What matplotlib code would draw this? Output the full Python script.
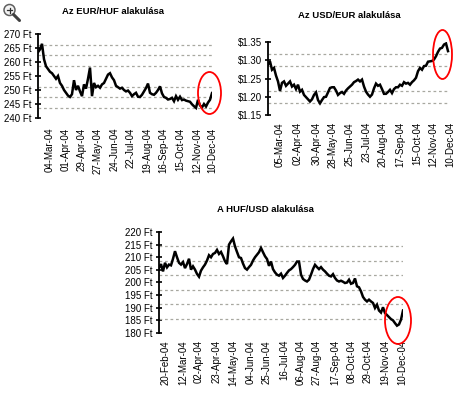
import numpy as np
import matplotlib
matplotlib.use("Agg")
import matplotlib.pyplot as plt
from matplotlib.patches import Ellipse
from matplotlib.lines import Line2D

plt.rcParams['font.family'] = ['Liberation Sans', 'DejaVu Sans']

# ---------------- data ----------------
eurhuf_title = "Az EUR/HUF alakulása"
eurhuf_values = [263.5, 264.5, 266.5, 261.0, 258.5, 257.5, 256.5, 256.0, 255.0, 254.0,
                 255.0, 252.5, 251.5, 250.0, 249.0, 248.0, 247.5, 248.5, 253.5, 250.0,
                 251.5, 249.5, 247.8, 252.0, 250.5, 254.0, 258.0, 247.8, 252.5, 251.0,
                 251.5, 250.8, 252.0, 252.5, 254.0, 255.5, 256.0, 254.5, 253.5, 251.5,
                 251.0, 250.5, 250.8, 250.0, 249.5, 249.8, 249.0, 247.8, 248.5, 249.0,
                 247.6, 247.5, 248.3, 249.5, 250.7, 252.3, 249.0, 248.5, 248.3, 249.0,
                 250.0, 251.3, 248.8, 247.5, 247.2, 246.6, 246.8, 247.2, 246.0, 247.8,
                 246.5, 247.6, 246.4, 246.6, 246.2, 246.0, 245.8, 244.9, 244.2, 243.6,
                 246.5, 244.5, 243.8, 245.0, 244.1, 245.5, 246.5, 248.9]
eurhuf_tick_pos = [6, 14, 22, 30, 38.5, 46.5, 54.5, 62.5, 71, 79.5, 87]
eurhuf_tick_labels = ['04-Mar-04', '01-Apr-04', '29-Apr-04', '27-May-04', '24-Jun-04',
                      '22-Jul-04', '19-Aug-04', '16-Sep-04', '15-Oct-04', '12-Nov-04',
                      '10-Dec-04']
eurhuf_yticks = [240, 245, 250, 255, 260, 265, 270]

usdeur_title = "Az USD/EUR alakulása"
usdeur_values = [1.288, 1.297, 1.274, 1.279, 1.258, 1.242, 1.216, 1.238, 1.242, 1.230,
                 1.236, 1.242, 1.228, 1.233, 1.221, 1.233, 1.214, 1.219, 1.205, 1.199,
                 1.193, 1.187, 1.193, 1.205, 1.212, 1.191, 1.182, 1.191, 1.199, 1.200,
                 1.212, 1.224, 1.226, 1.226, 1.217, 1.205, 1.210, 1.213, 1.208, 1.217,
                 1.223, 1.228, 1.233, 1.240, 1.243, 1.247, 1.242, 1.247, 1.228, 1.214,
                 1.206, 1.200, 1.206, 1.223, 1.236, 1.230, 1.233, 1.221, 1.208, 1.208,
                 1.213, 1.219, 1.210, 1.221, 1.226, 1.226, 1.233, 1.230, 1.240, 1.236,
                 1.238, 1.233, 1.240, 1.245, 1.252, 1.270, 1.279, 1.274, 1.284, 1.285,
                 1.296, 1.297, 1.298, 1.302, 1.311, 1.323, 1.332, 1.334, 1.343, 1.346,
                 1.325]
usdeur_tick_pos = [6, 15, 24.5, 32.5, 41, 49.5, 57.5, 66, 74.5, 82.5, 91]
usdeur_tick_labels = ['05-Mar-04', '02-Apr-04', '30-Apr-04', '28-May-04', '25-Jun-04',
                      '23-Jul-04', '20-Aug-04', '17-Sep-04', '15-Oct-04', '12-Nov-04',
                      '10-Dec-04']
usdeur_yticks = [1.15, 1.20, 1.25, 1.30, 1.35]

hufusd_title = "A HUF/USD alakulása"
hufusd_values = [205.7, 207.3, 204.4, 207.8, 206.0, 207.1, 206.8, 209.4, 212.4, 210.0,
                 207.8, 207.1, 208.1, 205.7, 207.3, 209.4, 205.1, 206.4, 205.1, 203.4,
                 202.3, 204.7, 206.0, 207.1, 208.7, 210.8, 210.0, 211.3, 211.7, 212.9,
                 211.3, 212.1, 210.4, 208.4, 207.3, 215.0, 216.3, 217.4, 214.3, 212.1,
                 210.0, 209.7, 207.5, 205.7, 205.1, 206.1, 207.0, 208.7, 210.0, 211.0,
                 212.0, 213.7, 212.0, 210.4, 209.3, 206.6, 208.3, 205.3, 204.0, 203.1,
                 202.7, 203.5, 201.8, 202.7, 203.8, 204.8, 205.3, 206.1, 207.0, 208.3,
                 208.3, 203.1, 201.4, 200.8, 200.4, 201.1, 203.1, 205.3, 207.0, 206.1,
                 205.3, 206.1, 205.1, 204.4, 203.5, 202.7, 202.4, 203.3, 201.8, 200.8,
                 200.4, 200.7, 200.3, 199.8, 200.0, 201.1, 199.5, 199.8, 201.6, 198.5,
                 198.1, 196.5, 194.3, 193.2, 192.5, 193.2, 192.5, 191.9, 189.9, 191.2,
                 188.9, 188.1, 190.2, 187.9, 187.1, 186.3, 185.5, 185.0, 183.9, 182.9,
                 183.4, 185.3, 188.9]
hufusd_tick_pos = [3.5, 12, 20, 29, 37, 46, 54, 62.5, 71, 79, 88, 96.5, 104.5, 113, 121.5]
hufusd_tick_labels = ['20-Feb-04', '12-Mar-04', '02-Apr-04', '23-Apr-04', '14-May-04',
                      '04-Jun-04', '25-Jun-04', '16-Jul-04', '06-Aug-04', '27-Aug-04',
                      '17-Sep-04', '08-Oct-04', '29-Oct-04', '19-Nov-04', '10-Dec-04']
hufusd_yticks = [180, 185, 190, 195, 200, 205, 210, 215, 220]

# ---------------- figure ----------------
W, H = 458, 393
fig = plt.figure(figsize=(W / 100, H / 100), dpi=100)
fig.patch.set_facecolor('white')


def px_rect(left, top, right, bottom):
    return [left / W, 1 - bottom / H, (right - left) / W, (bottom - top) / H]


def style_axes(ax, values, tick_pos, tick_labels, yticks, ylim, ngrid, fmt, xright, xpad):
    x = np.arange(len(values))
    ax.plot(x, values, color='black', lw=1.8, solid_joinstyle='miter')
    ax.set_xlim(0, xright)
    ax.set_ylim(*ylim)
    for s in ['top', 'right', 'bottom']:
        ax.spines[s].set_visible(False)
    ax.spines['left'].set_linewidth(1.3)
    ax.set_yticks(yticks)
    ax.set_yticklabels([fmt(v) for v in yticks], fontsize=7)
    ax.set_yticks(np.linspace(ylim[0], ylim[1], ngrid), minor=True)
    ax.tick_params(axis='y', which='major', direction='inout', length=5, width=1.2, pad=2)
    ax.tick_params(axis='y', which='minor', length=0)
    ax.grid(axis='y', which='minor', color='#a8a8a0', linestyle=(0, (2.2, 2.2)), lw=0.9)
    ax.set_axisbelow(True)
    ax.set_xticks(tick_pos)
    ax.set_xticklabels(tick_labels, rotation=90, fontsize=7)
    ax.tick_params(axis='x', length=0, pad=xpad)


ax1 = fig.add_axes(px_rect(38, 34, 212, 118))
style_axes(ax1, eurhuf_values, eurhuf_tick_pos, eurhuf_tick_labels, eurhuf_yticks,
           (240, 270), 9, lambda v: f"{v:.0f} Ft", 87, 7)

ax2 = fig.add_axes(px_rect(268, 42, 450, 115))
style_axes(ax2, usdeur_values, usdeur_tick_pos, usdeur_tick_labels, usdeur_yticks,
           (1.15, 1.35), 7, lambda v: f"${v:.2f}", 91, 5)

ax3 = fig.add_axes(px_rect(159, 232, 403, 333))
style_axes(ax3, hufusd_values, hufusd_tick_pos, hufusd_tick_labels, hufusd_yticks,
           (180, 220), 8, lambda v: f"{v:.0f} Ft", 122, 5)

# titles
fig.text(113 / W, 1 - 12 / H, eurhuf_title, ha='center', va='center', fontsize=6.8, fontweight='bold')
fig.text(349 / W, 1 - 16 / H, usdeur_title, ha='center', va='center', fontsize=6.8, fontweight='bold')
fig.text(265 / W, 1 - 209 / H, hufusd_title, ha='center', va='center', fontsize=6.8, fontweight='bold')

# red ellipses
for (cx, cy, w, h) in [(209.5, 93, 23, 42), (442.5, 54.5, 19, 49), (398, 320.5, 26, 47)]:
    fig.add_artist(Ellipse((cx / W, 1 - cy / H), w / W, h / H, transform=fig.transFigure,
                           fill=False, edgecolor='red', lw=1.3))

# magnifier icon
fig.add_artist(Line2D([13.5 / W, 19.5 / W], [1 - 14.5 / H, 1 - 20.5 / H], transform=fig.transFigure,
                      color='#404040', lw=2.2, solid_capstyle='round'))
fig.add_artist(Ellipse((9.5 / W, 1 - 10 / H), 11 / W, 11 / H, transform=fig.transFigure,
                       facecolor='#f4f4f4', edgecolor='#606060', lw=1.1))
fig.add_artist(Line2D([7 / W, 12 / W], [1 - 10 / H, 1 - 10 / H], transform=fig.transFigure,
                      color='#303030', lw=0.9))
fig.add_artist(Line2D([9.5 / W, 9.5 / W], [1 - 7.5 / H, 1 - 12.5 / H], transform=fig.transFigure,
                      color='#303030', lw=0.9))

fig.savefig('out.png', dpi=100)
